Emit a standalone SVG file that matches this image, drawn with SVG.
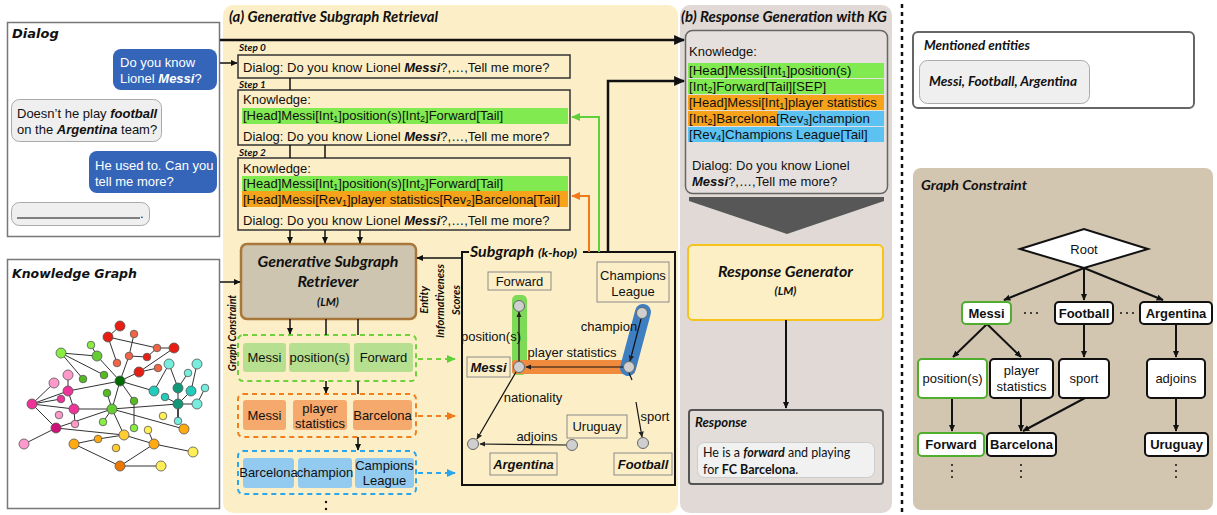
<svg xmlns="http://www.w3.org/2000/svg" width="1217" height="515" viewBox="0 0 1217 515">
<defs>
<style>
.s{font-family:"Liberation Sans",Arial,sans-serif;font-size:13px;fill:#111}
.k{font-size:13.3px}
.bi{font-weight:bold;font-style:italic}
.b{font-weight:bold}
.c{font-family:Lato,"Open Sans",sans-serif;font-weight:bold;font-style:italic;fill:#111}
.v{font-family:"DejaVu Sans",Verdana,sans-serif;font-weight:bold;font-style:italic;fill:#111}
.sub{font-size:9px;baseline-shift:-2px}
.mid{text-anchor:middle}
.w{fill:#fff}
.step{fill:none;stroke:#333;stroke-width:1.5}
.ln{stroke:#111;stroke-width:1.5;fill:none}
.kg line{stroke:#333;stroke-width:1}
.kg circle{stroke:#555;stroke-width:0.8}
.gcb{fill:#fff;stroke:#111;stroke-width:2}
.gcg{fill:#fff;stroke:#4fae2e;stroke-width:2}
.lab{fill:none;stroke:#8a8a8a;stroke-width:1}
.sn{fill:#cfcfcf;stroke:#666;stroke-width:1}
.gb{fill:#b6e08f}
.ob{fill:#f5a96c}
.bb{fill:#92caf0}
.resp{font-family:Lato,"Open Sans",sans-serif;font-size:12.5px;fill:#111}
</style>
<marker id="a" viewBox="0 0 10 10" refX="9" refY="5" markerWidth="7" markerHeight="7" markerUnits="userSpaceOnUse" orient="auto"><path d="M0,0.5L10,5L0,9.5z" fill="#111"/></marker>
<marker id="aL" viewBox="0 0 10 10" refX="9" refY="5" markerWidth="11" markerHeight="11" markerUnits="userSpaceOnUse" orient="auto"><path d="M0,0.5L10,5L0,9.5z" fill="#111"/></marker>
<marker id="aS" viewBox="0 0 10 10" refX="9" refY="5" markerWidth="6" markerHeight="6" markerUnits="userSpaceOnUse" orient="auto"><path d="M0,0.5L10,5L0,9.5z" fill="#222"/></marker>
<marker id="aG" viewBox="0 0 10 10" refX="9" refY="5" markerWidth="9" markerHeight="9" markerUnits="userSpaceOnUse" orient="auto"><path d="M0,0.5L10,5L0,9.5z" fill="#5fcf3a"/></marker>
<marker id="aO" viewBox="0 0 10 10" refX="9" refY="5" markerWidth="9" markerHeight="9" markerUnits="userSpaceOnUse" orient="auto"><path d="M0,0.5L10,5L0,9.5z" fill="#f07a1a"/></marker>
<marker id="aB" viewBox="0 0 10 10" refX="9" refY="5" markerWidth="9" markerHeight="9" markerUnits="userSpaceOnUse" orient="auto"><path d="M0,0.5L10,5L0,9.5z" fill="#2aa6ee"/></marker>
</defs>

<rect width="1217" height="515" fill="#fff"/>

<!-- panels -->
<g id="panel-a">
<rect x="223" y="5" width="455" height="508" rx="10" fill="#fcefc8"/>
<text class="c" x="229" y="22" font-size="15" textLength="209" lengthAdjust="spacingAndGlyphs">(a) Generative Subgraph Retrieval</text>
</g>
<g id="panel-b">
<rect x="680" y="5" width="212" height="508" rx="10" fill="#e0d9d5"/>
<text class="c" x="681" y="22" font-size="15" textLength="206" lengthAdjust="spacingAndGlyphs">(b) Response Generation with KG</text>
</g>
<line x1="902" y1="4" x2="902" y2="515" stroke="#111" stroke-width="2.5" stroke-dasharray="4 4"/>

<!-- Dialog -->
<g id="dialog">
<rect x="7.5" y="22.5" width="212" height="214" fill="#fff" stroke="#777" stroke-width="1.5"/>
<text x="12" y="38" class="v" font-size="13">Dialog</text>
<rect x="113" y="49" width="104" height="41" rx="8" fill="#3465b9"/>
<text class="s w" x="120" y="67">Do you know</text>
<text class="s w" x="120" y="83">Lionel <tspan class="bi">Messi</tspan>?</text>
<rect x="11.5" y="99.5" width="150" height="42" rx="8" fill="#efefef" stroke="#aaa"/>
<text class="s" x="17" y="118">Doesn’t he play <tspan class="bi">football</tspan></text>
<text class="s" x="17" y="134">on the <tspan class="bi">Argentina</tspan> team?</text>
<rect x="89" y="151" width="128" height="42" rx="8" fill="#3465b9"/>
<text class="s w" x="95" y="170">He used to. Can you</text>
<text class="s w" x="95" y="186">tell me more?</text>
<rect x="11.5" y="202.5" width="138" height="23" rx="8" fill="#efefef" stroke="#aaa"/>
<line x1="17" y1="218" x2="140" y2="218" stroke="#111"/>
<text class="s" x="140" y="218">.</text>
</g>

<!-- Knowledge graph -->
<g id="knowledge-graph">
<rect x="7.5" y="259.5" width="212" height="249" fill="#fff" stroke="#777" stroke-width="1.5"/>
<text x="12" y="278" class="v" font-size="12.5">Knowledge Graph</text>
<g class="kg">
<line x1="108" y1="337" x2="157" y2="348"/><line x1="157" y1="348" x2="174" y2="348"/><line x1="120" y1="326" x2="108" y2="337"/>
<line x1="108" y1="337" x2="117" y2="363"/><line x1="134" y1="334" x2="129" y2="356"/><line x1="129" y1="356" x2="147" y2="357"/>
<line x1="147" y1="357" x2="157" y2="348"/><line x1="129" y1="356" x2="120" y2="381"/><line x1="174" y1="348" x2="139" y2="372"/>
<line x1="139" y1="372" x2="158" y2="368"/><line x1="139" y1="372" x2="120" y2="381"/>
<line x1="61" y1="353" x2="97" y2="356"/><line x1="61" y1="353" x2="83" y2="379"/><line x1="61" y1="353" x2="104" y2="375"/>
<line x1="91" y1="345" x2="97" y2="356"/><line x1="97" y1="356" x2="120" y2="381"/><line x1="120" y1="381" x2="68" y2="391"/>
<line x1="120" y1="381" x2="154" y2="391"/><line x1="120" y1="381" x2="112" y2="409"/><line x1="120" y1="381" x2="134" y2="401"/>
<line x1="107" y1="393" x2="112" y2="409"/><line x1="134" y1="401" x2="134" y2="428"/><line x1="112" y1="409" x2="103" y2="422"/>
<line x1="112" y1="409" x2="124" y2="435"/><line x1="112" y1="409" x2="184" y2="429"/><line x1="112" y1="409" x2="178" y2="404"/>
<line x1="112" y1="409" x2="74" y2="409"/><line x1="112" y1="409" x2="56" y2="428"/><line x1="74" y1="409" x2="32" y2="404"/>
<line x1="32" y1="404" x2="54" y2="383"/><line x1="32" y1="404" x2="68" y2="391"/><line x1="32" y1="404" x2="61" y2="399"/>
<line x1="32" y1="404" x2="56" y2="428"/><line x1="68" y1="375" x2="68" y2="391"/><line x1="68" y1="391" x2="74" y2="409"/>
<line x1="74" y1="409" x2="75" y2="424"/><line x1="56" y1="428" x2="24" y2="444"/><line x1="56" y1="428" x2="124" y2="435"/>
<line x1="169" y1="364" x2="154" y2="391"/><line x1="169" y1="364" x2="178" y2="388"/><line x1="197" y1="364" x2="191" y2="391"/>
<line x1="188" y1="373" x2="178" y2="388"/><line x1="178" y1="388" x2="178" y2="404"/><line x1="191" y1="391" x2="178" y2="404"/>
<line x1="205" y1="388" x2="197" y2="404"/><line x1="165" y1="397" x2="178" y2="404"/><line x1="178" y1="404" x2="197" y2="404"/>
<line x1="178" y1="404" x2="178" y2="421" style="stroke-width:1.8"/>
<line x1="124" y1="435" x2="154" y2="444"/><line x1="148" y1="430" x2="154" y2="444"/><line x1="154" y1="444" x2="193" y2="452"/>
<line x1="154" y1="444" x2="120" y2="466"/><line x1="120" y1="466" x2="74" y2="444"/><line x1="74" y1="444" x2="98" y2="439"/>
<line x1="98" y1="439" x2="124" y2="435"/><line x1="120" y1="466" x2="161" y2="466"/>
<circle cx="120" cy="326" r="5" fill="#e61e14"/><circle cx="108" cy="337" r="5" fill="#e61e14"/><circle cx="134" cy="334" r="3.8" fill="#f26446"/>
<circle cx="157" cy="348" r="3.8" fill="#f26446"/><circle cx="174" cy="348" r="5" fill="#e61e14"/><circle cx="147" cy="357" r="3.8" fill="#e61e14"/>
<circle cx="129" cy="356" r="3.8" fill="#f26446"/><circle cx="117" cy="363" r="3.8" fill="#f26446"/><circle cx="139" cy="372" r="5" fill="#e61e14"/>
<circle cx="158" cy="368" r="3.8" fill="#f26446"/>
<circle cx="91" cy="345" r="3.8" fill="#88ee44"/><circle cx="61" cy="353" r="5" fill="#88ee44"/><circle cx="97" cy="356" r="5" fill="#66cc33"/>
<circle cx="83" cy="379" r="3.8" fill="#55bb22"/><circle cx="104" cy="375" r="3.8" fill="#55bb22"/><circle cx="120" cy="381" r="5" fill="#006b00"/>
<circle cx="107" cy="393" r="3.8" fill="#55bb22"/><circle cx="134" cy="401" r="3.8" fill="#55bb22"/><circle cx="112" cy="409" r="5" fill="#66cc33"/>
<circle cx="103" cy="422" r="3.8" fill="#88ee44"/><circle cx="134" cy="428" r="3.8" fill="#88ee44"/>
<circle cx="68" cy="375" r="5" fill="#ff99cc"/><circle cx="54" cy="383" r="5" fill="#ff99cc"/><circle cx="68" cy="391" r="5" fill="#ee3399"/>
<circle cx="61" cy="399" r="3.8" fill="#ee3399"/><circle cx="32" cy="404" r="5" fill="#ee3399"/><circle cx="74" cy="409" r="5" fill="#ee3399"/>
<circle cx="59" cy="415" r="3.8" fill="#ff99cc"/><circle cx="75" cy="424" r="3.8" fill="#ff99cc"/><circle cx="56" cy="428" r="5" fill="#cc1177"/>
<circle cx="24" cy="444" r="5" fill="#ff99cc"/>
<circle cx="169" cy="364" r="5" fill="#77eedd"/><circle cx="197" cy="364" r="5" fill="#77eedd"/><circle cx="188" cy="373" r="3.8" fill="#77eedd"/>
<circle cx="154" cy="391" r="5" fill="#22ccbb"/><circle cx="178" cy="388" r="5" fill="#119977"/><circle cx="191" cy="391" r="5" fill="#22ccbb"/>
<circle cx="205" cy="388" r="3.8" fill="#77eedd"/><circle cx="165" cy="397" r="3.8" fill="#22ccbb"/><circle cx="178" cy="404" r="5" fill="#119977"/>
<circle cx="197" cy="404" r="5" fill="#77eedd"/><circle cx="178" cy="421" r="3.8" fill="#77eedd"/>
<circle cx="163" cy="416" r="3.8" fill="#ffee55"/><circle cx="184" cy="429" r="5" fill="#ffaa11"/><circle cx="124" cy="435" r="5" fill="#ffcc33"/>
<circle cx="148" cy="430" r="3.8" fill="#ffee55"/><circle cx="74" cy="444" r="5" fill="#ffaa11"/><circle cx="98" cy="439" r="3.8" fill="#ffaa11"/>
<circle cx="116" cy="448" r="3.8" fill="#ffcc33"/><circle cx="154" cy="444" r="5" fill="#ffaa11"/><circle cx="193" cy="452" r="5" fill="#ffee55"/>
<circle cx="120" cy="466" r="5" fill="#ee7700"/><circle cx="161" cy="466" r="5" fill="#ffee55"/>
</g>
</g>

<!-- Steps -->
<g id="step0">
<text class="c" x="239" y="51" font-size="10">Step 0</text>
<rect class="step" x="238" y="55" width="332" height="23"/>
<text class="s" x="243" y="72">Dialog: Do you know Lionel <tspan class="bi">Messi</tspan>?,…,Tell me more?</text>
</g>
<g id="step1">
<text class="c" x="239" y="88" font-size="10">Step 1</text>
<rect class="step" x="238" y="90" width="332" height="55"/>
<text class="s" x="243" y="104">Knowledge:</text>
<rect x="242" y="108" width="326" height="16" fill="#80ea50"/>
<text class="s" x="243" y="120" font-size="13.8">[Head]Messi[Int<tspan class="sub">1</tspan>]position(s)[Int<tspan class="sub">2</tspan>]Forward[Tail]</text>
<text class="s" x="243" y="141">Dialog: Do you know Lionel <tspan class="bi">Messi</tspan>?,…,Tell me more?</text>
</g>
<g id="step2">
<text class="c" x="239" y="156" font-size="10">Step 2</text>
<rect class="step" x="238" y="158" width="332" height="72"/>
<text class="s" x="243" y="173">Knowledge:</text>
<rect x="242" y="176" width="326" height="15" fill="#80ea50"/>
<rect x="242" y="191" width="326" height="16" fill="#f7a21b"/>
<text class="s" x="243" y="188" font-size="13.8">[Head]Messi[Int<tspan class="sub">1</tspan>]position(s)[Int<tspan class="sub">2</tspan>]Forward[Tail]</text>
<text class="s" x="243" y="204" font-size="13">[Head]Messi[Rev<tspan class="sub">1</tspan>]player statistics[Rev<tspan class="sub">2</tspan>]Barcelona[Tail]</text>
<text class="s" x="243" y="225">Dialog: Do you know Lionel <tspan class="bi">Messi</tspan>?,…,Tell me more?</text>
</g>

<!-- GSR -->
<g id="retriever">
<rect x="241" y="244" width="175" height="75" rx="6" fill="#cdc5b0" stroke="#a9773a" stroke-width="2.5"/>
<text class="c mid" x="328" y="267" font-size="16" textLength="141" lengthAdjust="spacingAndGlyphs">Generative Subgraph</text>
<text class="c mid" x="328" y="287" font-size="16">Retriever</text>
<text class="c mid" x="328" y="306" font-size="11.5">(LM)</text>
</g>
<text class="c mid" transform="translate(236,333) rotate(-90)" font-size="10.5">Graph Constraint</text>
<g id="scores-label">
<text class="c mid" transform="translate(428,300) rotate(-90)" font-size="11">Entity</text>
<text class="c mid" transform="translate(444,301) rotate(-90)" font-size="11">Informativeness</text>
<text class="c mid" transform="translate(460,300) rotate(-90)" font-size="11">Scores</text>
</g>

<!-- triple boxes -->
<g id="triple-1">
<rect x="238" y="335" width="178" height="46" rx="5" fill="none" stroke="#6fd23c" stroke-width="2" stroke-dasharray="5 4"/>
<rect class="gb" x="243" y="343" width="43" height="29" rx="3"/>
<rect class="gb" x="289" y="343" width="61" height="29" rx="3"/>
<rect class="gb" x="354" y="343" width="59" height="29" rx="3"/>
<text class="s mid" x="264.5" y="362" font-size="12.5">Messi</text>
<text class="s mid" x="319.5" y="362" font-size="12.5">position(s)</text>
<text class="s mid" x="383.5" y="362" font-size="12.5">Forward</text>
</g>
<g id="triple-2">
<rect x="238" y="394" width="178" height="43" rx="5" fill="none" stroke="#f07f1e" stroke-width="2" stroke-dasharray="5 4"/>
<rect class="ob" x="243" y="400" width="43" height="30" rx="3"/>
<rect class="ob" x="293" y="400" width="54" height="30" rx="3"/>
<rect class="ob" x="353" y="400" width="59" height="30" rx="3"/>
<text class="s mid" x="264.5" y="420" font-size="12.5">Messi</text>
<text class="s mid" x="320" y="413" font-size="12.5">player</text>
<text class="s mid" x="320" y="428" font-size="12.5">statistics</text>
<text class="s mid" x="382.5" y="420" font-size="12.5">Barcelona</text>
</g>
<g id="triple-3">
<rect x="238" y="451" width="178" height="43" rx="5" fill="none" stroke="#2aa6ee" stroke-width="2" stroke-dasharray="5 4"/>
<rect class="bb" x="243" y="458" width="51" height="30" rx="3"/>
<rect class="bb" x="298" y="458" width="54" height="30" rx="3"/>
<rect class="bb" x="355" y="458" width="59" height="30" rx="3"/>
<text class="s mid" x="268.5" y="477" font-size="12">Barcelona</text>
<text class="s mid" x="325" y="477" font-size="12.5">champion</text>
<text class="s mid" x="384.5" y="470" font-size="12.5">Campions</text>
<text class="s mid" x="384.5" y="485" font-size="12.5">League</text>
</g>
<circle cx="326" cy="502" r="1.2" fill="#111"/><circle cx="326" cy="509" r="1.2" fill="#111"/>

<!-- Subgraph -->
<g id="subgraph">
<path d="M469,252H462V485H675V252H583" fill="none" stroke="#111" stroke-width="2"/>
<text class="c" x="470" y="257" font-size="15.5" textLength="64" lengthAdjust="spacingAndGlyphs">Subgraph</text>
<text class="c" x="538" y="257" font-size="10.5" textLength="39" lengthAdjust="spacingAndGlyphs">(k-hop)</text>
<rect x="512" y="295" width="15" height="80" rx="5" fill="#7ed957"/>
<rect x="512" y="360" width="123" height="14" rx="3" fill="#f08a3c"/>
<line x1="643" y1="312" x2="628" y2="368" stroke="#3d7fc1" stroke-width="16" stroke-linecap="round"/>
<rect class="lab" x="488" y="272" width="63" height="18"/>
<text class="s mid" x="519.5" y="286">Forward</text>
<rect class="lab" x="597" y="262" width="72" height="40"/>
<text class="s mid" x="633" y="280">Champions</text>
<text class="s mid" x="633" y="296">League</text>
<rect class="lab" x="467" y="357" width="43" height="20"/>
<text class="s bi mid" x="488.5" y="372">Messi</text>
<rect class="lab" x="567" y="415" width="60" height="23"/>
<text class="s mid" x="597" y="431">Uruguay</text>
<rect class="lab" x="490" y="453" width="67" height="22"/>
<text class="s bi mid" x="523.5" y="469">Argentina</text>
<rect class="lab" x="614" y="453" width="58" height="22"/>
<text class="s bi mid" x="643" y="469">Football</text>
<text class="s mid" x="491" y="341" font-size="12.5">position(s)</text>
<text class="s mid" x="572" y="357" font-size="12.5">player statistics</text>
<text class="s mid" x="609" y="331" font-size="12.5">champion</text>
<text class="s mid" x="533" y="402" font-size="12.5">nationality</text>
<text class="s mid" x="537" y="441" font-size="12.5">adjoins</text>
<text class="s mid" x="655" y="421" font-size="12.5">sport</text>
<g id="sg-edges">
<line class="ln" x1="519" y1="361" x2="519" y2="312" style="stroke-width:1.2" marker-end="url(#aS)"/>
<line class="ln" x1="623" y1="367" x2="526" y2="367" style="stroke-width:1.2" marker-end="url(#aS)"/>
<line class="ln" x1="641" y1="319" x2="630" y2="361" style="stroke-width:1.2" marker-end="url(#aS)"/>
<line class="ln" x1="516" y1="372" x2="477" y2="439" style="stroke-width:1.2" marker-end="url(#aS)"/>
<line class="ln" x1="566" y1="445" x2="480" y2="444" style="stroke-width:1.2" marker-end="url(#aS)"/>
<line class="ln" x1="629" y1="373" x2="632" y2="380" style="stroke-width:1.2"/>
<line class="ln" x1="636" y1="402" x2="642" y2="437" style="stroke-width:1.2" marker-end="url(#aS)"/>
</g>
<circle class="sn" cx="519" cy="306" r="5.5"/>
<circle class="sn" cx="519" cy="367" r="5.5"/>
<circle class="sn" cx="642" cy="313" r="5.5"/>
<circle class="sn" cx="629" cy="367" r="5.5"/>
<circle class="sn" cx="473" cy="444" r="5.5"/>
<circle class="sn" cx="572" cy="445" r="5.5"/>
<circle class="sn" cx="643" cy="443" r="5.5"/>
</g>

<!-- Panel b contents -->
<g id="kg-prompt">
<rect x="685.5" y="30.5" width="202" height="163" rx="7" fill="#e5e0dd" stroke="#666" stroke-width="1.5"/>
<text class="s" x="689" y="56">Knowledge:</text>
<rect x="688" y="63" width="196" height="15" fill="#80ea50"/>
<rect x="688" y="79" width="196" height="15" fill="#80ea50"/>
<rect x="688" y="95" width="196" height="15" fill="#f7a21b"/>
<rect x="688" y="111" width="90" height="15" fill="#f7a21b"/>
<rect x="778" y="111" width="106" height="15" fill="#5bc2f2"/>
<rect x="688" y="127" width="196" height="15" fill="#5bc2f2"/>
<text class="s k" x="689" y="75">[Head]Messi[Int<tspan class="sub">1</tspan>]position(s)</text>
<text class="s k" x="689" y="91">[Int<tspan class="sub">2</tspan>]Forward[Tail][SEP]</text>
<text class="s" x="689" y="107" font-size="13.5">[Head]Messi[Int<tspan class="sub">1</tspan>]player statistics</text>
<text class="s k" x="689" y="123">[Int<tspan class="sub">2</tspan>]Barcelona[Rev<tspan class="sub">3</tspan>]champion</text>
<text class="s k" x="689" y="139">[Rev<tspan class="sub">4</tspan>]Champions League[Tail]</text>
<text class="s" x="692" y="170">Dialog: Do you know Lionel</text>
<text class="s" x="692" y="186"><tspan class="bi">Messi</tspan>?,…,Tell me more?</text>
</g>
<polygon points="689,197 884,197 884,201 787,234 689,201" fill="#575757"/>
<g id="response-generator">
<rect x="688" y="245" width="195" height="75" rx="5" fill="#fcefc6" stroke="#f6c21c" stroke-width="2"/>
<text class="c mid" x="785.5" y="277" font-size="16" textLength="135" lengthAdjust="spacingAndGlyphs">Response Generator</text>
<text class="c mid" x="785.5" y="295" font-size="11.5">(LM)</text>
</g>
<g id="response">
<rect x="689" y="410" width="194" height="74" rx="3" fill="#e3ddd9" stroke="#555" stroke-width="2"/>
<text class="c" x="695" y="427" font-size="12.5" textLength="52" lengthAdjust="spacingAndGlyphs">Response</text>
<rect x="697.5" y="442.5" width="177" height="35" rx="7" fill="#f1f1f1" stroke="#ccc"/>
<text class="resp" x="703" y="457">He is a <tspan font-weight="bold" font-style="italic">forward</tspan> and playing</text>
<text class="resp" x="703" y="474">for <tspan font-weight="bold">FC Barcelona</tspan>.</text>
</g>

<!-- Mentioned entities -->
<g id="mentioned-entities">
<rect x="913" y="32" width="281" height="76" rx="5" fill="#fff" stroke="#666" stroke-width="2"/>
<text class="c" x="924" y="50" font-size="12.5" textLength="106" lengthAdjust="spacingAndGlyphs">Mentioned entities</text>
<rect x="919.5" y="60.5" width="170" height="43" rx="8" fill="#efefef" stroke="#aaa"/>
<text class="c" x="929" y="86" font-size="13.5" textLength="148" lengthAdjust="spacingAndGlyphs">Messi, Football, Argentina</text>
</g>

<!-- Graph constraint -->
<g id="graph-constraint">
<rect x="913" y="168" width="300" height="342" rx="8" fill="#d2c6b1"/>
<text class="c" x="921" y="190" font-size="13.5" textLength="106" lengthAdjust="spacingAndGlyphs">Graph Constraint</text>
<g id="gc-edges">
<line class="ln" x1="1084" y1="268" x2="1004" y2="300" style="stroke-width:2" marker-end="url(#a)"/>
<line class="ln" x1="1084" y1="268" x2="1084" y2="300" style="stroke-width:2" marker-end="url(#a)"/>
<line class="ln" x1="1084" y1="268" x2="1163" y2="300" style="stroke-width:2" marker-end="url(#a)"/>
<line class="ln" x1="987" y1="324" x2="953" y2="357" style="stroke-width:2" marker-end="url(#a)"/>
<line class="ln" x1="987" y1="324" x2="1021" y2="357" style="stroke-width:2" marker-end="url(#a)"/>
<line class="ln" x1="1084" y1="324" x2="1084" y2="357" style="stroke-width:2" marker-end="url(#a)"/>
<line class="ln" x1="1176" y1="324" x2="1176" y2="357" style="stroke-width:2" marker-end="url(#a)"/>
<line class="ln" x1="952" y1="398" x2="952" y2="431" style="stroke-width:2" marker-end="url(#a)"/>
<line class="ln" x1="1021" y1="398" x2="1021" y2="431" style="stroke-width:2" marker-end="url(#a)"/>
<line class="ln" x1="1085" y1="398" x2="1023" y2="431" style="stroke-width:2" marker-end="url(#a)"/>
<line class="ln" x1="1176" y1="398" x2="1176" y2="431" style="stroke-width:2" marker-end="url(#a)"/>
</g>
<g id="gc-root"><polygon points="1020,249 1084,229 1148,249 1084,268" fill="#fff" stroke="#111" stroke-width="2"/>
<text class="s mid" x="1084" y="254">Root</text></g>
<g id="gc-messi"><rect class="gcg" x="962" y="302" width="49" height="22" rx="4"/><text class="s b mid" x="986.5" y="318" font-size="12.5">Messi</text></g>
<g id="gc-football"><rect class="gcb" x="1055" y="302" width="58" height="22" rx="4"/><text class="s b mid" x="1084" y="318" font-size="12.5">Football</text></g>
<g id="gc-argentina"><rect class="gcb" x="1140" y="302" width="72" height="22" rx="4"/><text class="s b mid" x="1176" y="318" font-size="12.5">Argentina</text></g>
<g fill="#111"><circle cx="1025" cy="313" r="1"/><circle cx="1031" cy="313" r="1"/><circle cx="1037" cy="313" r="1"/>
<circle cx="1121" cy="313" r="1"/><circle cx="1127" cy="313" r="1"/><circle cx="1133" cy="313" r="1"/></g>
<g id="gc-position"><rect class="gcg" x="918" y="359" width="69" height="39" rx="4"/><text class="s mid" x="952.5" y="383">position(s)</text></g>
<g id="gc-playerstats"><rect class="gcb" x="990" y="359" width="63" height="39" rx="4"/><text class="s mid" x="1021.5" y="375">player</text><text class="s mid" x="1021.5" y="391">statistics</text></g>
<g id="gc-sport"><rect class="gcb" x="1059" y="359" width="50" height="39" rx="4"/><text class="s mid" x="1084" y="383">sport</text></g>
<g id="gc-adjoins"><rect class="gcb" x="1147" y="359" width="58" height="39" rx="4"/><text class="s mid" x="1176" y="383">adjoins</text></g>
<g id="gc-forward"><rect class="gcg" x="918" y="433" width="66" height="23" rx="4"/><text class="s b mid" x="951" y="449" font-size="12.5">Forward</text></g>
<g id="gc-barcelona"><rect class="gcb" x="987" y="433" width="69" height="23" rx="4"/><text class="s b mid" x="1021.5" y="449" font-size="12.5">Barcelona</text></g>
<g id="gc-uruguay"><rect class="gcb" x="1145" y="433" width="63" height="23" rx="4"/><text class="s b mid" x="1176.5" y="449" font-size="12.5">Uruguay</text></g>
<g fill="#111"><circle cx="952" cy="465" r="1"/><circle cx="952" cy="471" r="1"/><circle cx="952" cy="477" r="1"/>
<circle cx="1021" cy="465" r="1"/><circle cx="1021" cy="471" r="1"/><circle cx="1021" cy="477" r="1"/>
<circle cx="1176" cy="465" r="1"/><circle cx="1176" cy="471" r="1"/><circle cx="1176" cy="477" r="1"/></g>
</g>

<!-- connectors -->
<g id="connectors">
<line x1="220" y1="40" x2="684" y2="40" stroke="#111" stroke-width="2.5" marker-end="url(#aL)"/>
<line class="ln" x1="220" y1="63" x2="237" y2="63" marker-end="url(#a)"/>
<line class="ln" x1="290" y1="78" x2="290" y2="90"/>
<line class="ln" x1="290" y1="145" x2="290" y2="158"/>
<line class="ln" x1="325" y1="145" x2="325" y2="158"/>
<line class="ln" x1="290" y1="230" x2="290" y2="243" marker-end="url(#a)"/>
<line class="ln" x1="325" y1="230" x2="325" y2="243" marker-end="url(#a)"/>
<line class="ln" x1="360" y1="230" x2="360" y2="243" marker-end="url(#a)"/>
<line class="ln" x1="220" y1="282" x2="240" y2="282" marker-end="url(#a)"/>
<line class="ln" x1="462" y1="258" x2="417" y2="258" marker-end="url(#a)"/>
<line class="ln" x1="290" y1="319" x2="290" y2="334" marker-end="url(#a)"/>
<line class="ln" x1="326" y1="319" x2="326" y2="335"/>
<line class="ln" x1="358" y1="319" x2="358" y2="335"/>
<line class="ln" x1="326" y1="381" x2="326" y2="393" marker-end="url(#a)"/>
<line class="ln" x1="358" y1="381" x2="358" y2="394"/>
<line class="ln" x1="358" y1="437" x2="358" y2="450" marker-end="url(#a)"/>
<line x1="418" y1="359" x2="455" y2="359" stroke="#6fd23c" stroke-width="2" stroke-dasharray="5 4" marker-end="url(#aG)"/>
<line x1="418" y1="416" x2="455" y2="416" stroke="#f07f1e" stroke-width="2" stroke-dasharray="5 4" marker-end="url(#aO)"/>
<line x1="418" y1="473" x2="455" y2="473" stroke="#2aa6ee" stroke-width="2" stroke-dasharray="5 4" marker-end="url(#aB)"/>
<polyline points="599,252 599,117 572,117" fill="none" stroke="#5fcf3a" stroke-width="2" marker-end="url(#aG)"/>
<polyline points="589,252 589,196 572,196" fill="none" stroke="#f07a1a" stroke-width="2" marker-end="url(#aO)"/>
<polyline points="608,252 608,81 684,81" fill="none" stroke="#111" stroke-width="2.5" marker-end="url(#aL)"/>
<line x1="786" y1="320" x2="786" y2="408" stroke="#111" stroke-width="2" marker-end="url(#a)"/>
</g>
</svg>
